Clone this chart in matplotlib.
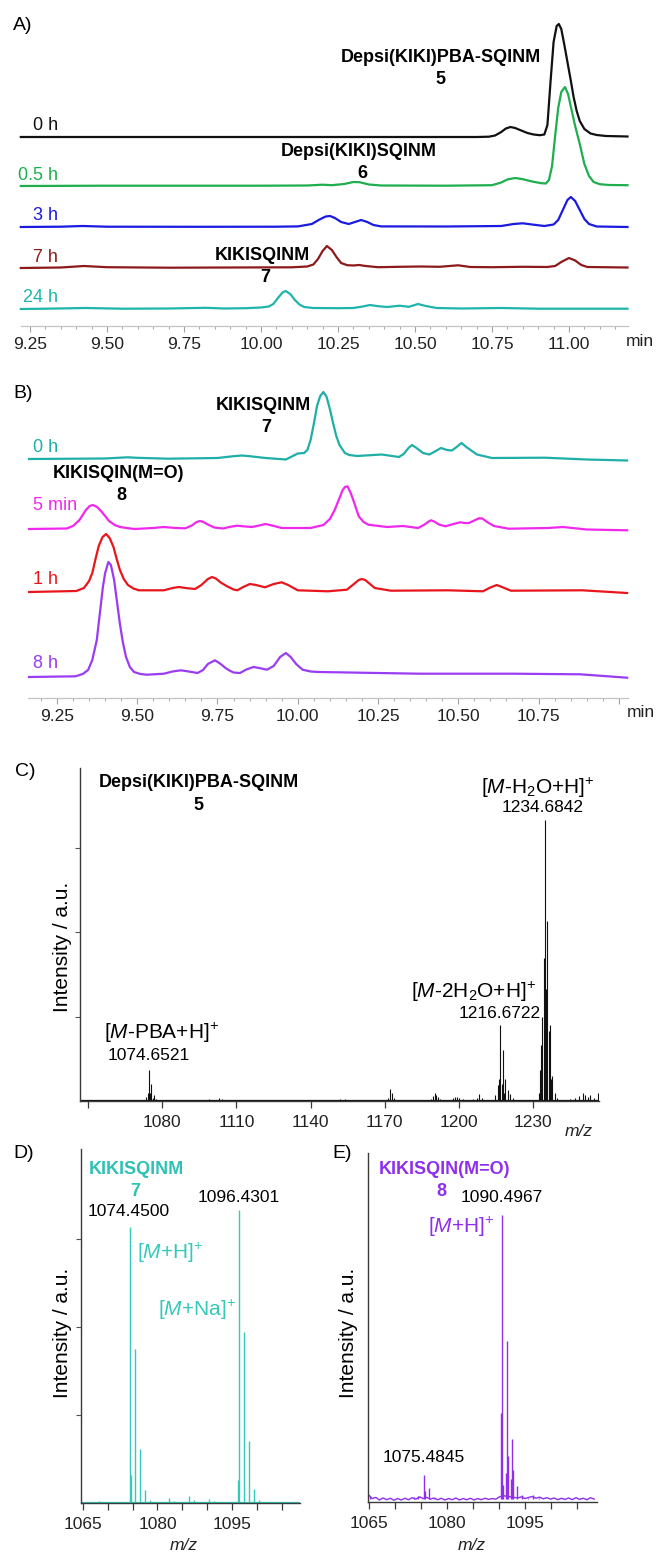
import matplotlib
matplotlib.use('Agg')
import matplotlib.pyplot as plt
from matplotlib.ticker import MultipleLocator, FixedLocator, NullFormatter

plt.rcParams['font.family'] = ['Liberation Sans', 'DejaVu Sans']
plt.rcParams['mathtext.fontset'] = 'custom'
plt.rcParams['mathtext.rm'] = 'Liberation Sans'
plt.rcParams['mathtext.it'] = 'Liberation Sans:italic'
plt.rcParams['mathtext.bf'] = 'Liberation Sans:bold'

# ---------------- data: panel A (HPLC traces, signal in arbitrary units) ----------------
A_labels = ['0 h', '0.5 h', '3 h', '7 h', '24 h']
A_t_0h = [9.22, 10.70, 10.74, 10.76, 10.78, 10.795, 10.81, 10.825, 10.845, 10.865, 10.885, 10.905, 10.92, 10.93,
          10.94, 10.95, 10.96, 10.967, 10.975, 10.985, 10.995, 11.005, 11.015, 11.025, 11.035, 11.05, 11.07, 11.09,
          11.12, 11.19]
A_y_0h = [0, 0, 0.3, 1.5, 5, 8.5, 10, 9, 6.5, 4, 2.5, 1.8, 2.5, 12, 55, 95, 111, 113, 108, 92, 75, 58, 40, 26, 16,
          8, 3.5, 2, 1, 0.5]
A_t_05h = [9.22, 9.50, 10.00, 10.15, 10.20, 10.23, 10.27, 10.30, 10.32, 10.35, 10.39, 10.60, 10.75, 10.78, 10.80,
           10.825, 10.85, 10.88, 10.91, 10.925, 10.935, 10.945, 10.955, 10.965, 10.975, 10.987, 10.997, 11.007,
           11.02, 11.035, 11.05, 11.065, 11.08, 11.10, 11.13, 11.19]
A_y_05h = [0, 0.3, 0.3, 0.5, 1.3, 0.8, 2, 4, 3.8, 1.5, 0.5, 0.3, 0.8, 3.5, 6.5, 8, 6.8, 4.5, 2.8, 2.5, 6, 20, 50,
           78, 94, 99, 92, 78, 60, 42, 22, 10, 4, 1.8, 1, 0.8]
A_t_3h = [9.22, 9.35, 9.42, 9.50, 9.80, 10.05, 10.12, 10.165, 10.19, 10.21, 10.224, 10.24, 10.26, 10.285, 10.30,
          10.325, 10.345, 10.365, 10.39, 10.60, 10.78, 10.82, 10.85, 10.88, 10.92, 10.95, 10.965, 10.98, 10.995,
          11.006, 11.02, 11.035, 11.05, 11.065, 11.09, 11.19]
A_y_3h = [0, 0.3, 1, 0.3, 0.2, 0.3, 0.6, 3, 7.5, 10.5, 11, 9, 5, 3, 4.5, 7, 5, 2, 0.6, 0.5, 1, 3, 3.7, 2.5, 1, 2.5,
          7, 17, 27, 30, 26, 17, 8, 3, 0.5, 0]
A_t_7h = [9.22, 9.35, 9.425, 9.50, 9.70, 9.90, 10.10, 10.15, 10.17, 10.185, 10.20, 10.214, 10.23, 10.245, 10.26,
          10.28, 10.30, 10.318, 10.34, 10.38, 10.45, 10.52, 10.58, 10.64, 10.68, 10.75, 10.85, 10.93, 10.955,
          10.975, 11.0, 11.02, 11.04, 11.06, 11.19]
A_y_7h = [0, 0.5, 2, 0.8, 0.3, 0.5, 0.7, 1.5, 3.5, 9, 17, 22, 18, 11, 5, 2.8, 2.5, 3, 2, 0.8, 1.2, 1.5, 1.2, 2.7,
          1.0, 0.8, 1.2, 1, 2, 6, 10, 7.5, 3, 1, 0.5]
A_t_24h = [9.22, 9.30, 9.43, 9.55, 9.70, 9.82, 9.88, 9.95, 10.00, 10.025, 10.04, 10.055, 10.07, 10.08, 10.095,
           10.11, 10.125, 10.14, 10.17, 10.25, 10.30, 10.33, 10.354, 10.38, 10.41, 10.45, 10.48, 10.51, 10.535,
           10.57, 10.65, 10.78, 10.90, 11.19]
A_y_24h = [0, 0.3, 1, 0.3, 0.5, 1.2, 0.5, 0.8, 1.5, 2.5, 5, 11, 16.5, 18, 15, 9, 4.5, 2, 1, 0.8, 1, 2.5, 4, 2.8,
           2, 3.3, 2.2, 5, 3, 1, 0.5, 1, 0.3, 0.3]
A_ticks = [9.25, 9.50, 9.75, 10.00, 10.25, 10.50, 10.75, 11.00]

# ---------------- data: panel B ----------------
B_labels = ['0 h', '5 min', '1 h', '8 h']
B_t_0h = [9.163, 9.40, 9.44, 9.47, 9.50, 9.596, 9.75, 9.80, 9.826, 9.85, 9.90, 9.963, 10.00, 10.02, 10.03, 10.04,
          10.05, 10.06, 10.07, 10.08, 10.09, 10.10, 10.11, 10.12, 10.13, 10.147, 10.16, 10.185, 10.262, 10.315,
          10.33, 10.345, 10.356, 10.37, 10.39, 10.41, 10.43, 10.446, 10.465, 10.48, 10.495, 10.51, 10.525, 10.558,
          10.605, 10.77, 10.90, 11.026]
B_y_0h = [0, 0.5, 1.2, 1.7, 1.2, 0.3, 1, 2.8, 3.5, 2.8, 1, -0.5, 5.5, 6, 9, 19, 35, 53, 63, 67, 62, 50, 36, 23,
          14, 6, 4, 3, 4.5, 2, 5, 11, 14, 11, 6, 4.5, 8, 11, 9, 8.5, 12, 16, 12, 4.5, 1, 1.3, -0.5, -1.5]
B_t_5m = [9.163, 9.28, 9.30, 9.32, 9.34, 9.352, 9.362, 9.375, 9.387, 9.40, 9.412, 9.43, 9.446, 9.49, 9.55, 9.583,
          9.62, 9.65, 9.67, 9.685, 9.695, 9.705, 9.72, 9.74, 9.767, 9.79, 9.81, 9.83, 9.857, 9.88, 9.90, 9.92,
          9.95, 10.04, 10.08, 10.10, 10.115, 10.13, 10.14, 10.147, 10.155, 10.165, 10.175, 10.19, 10.205, 10.22,
          10.278, 10.328, 10.375, 10.395, 10.408, 10.415, 10.425, 10.44, 10.46, 10.485, 10.506, 10.52, 10.533,
          10.55, 10.565, 10.575, 10.59, 10.611, 10.657, 10.78, 10.826, 10.90, 11.026]
B_y_5m = [0, 0.5, 3, 9, 19, 23, 24, 22, 18, 13, 8, 4, 2, 0, 1, 2, 1, 0.7, 3.5, 7, 8, 7.2, 4.5, 1.5, 0.5, 2.2, 3.3,
          2.7, 2, 3.5, 5, 3.5, 1, 1, 4, 10, 19, 31, 39, 42, 42.7, 36, 27, 12.7, 7, 4.3, 2, 3, 1, 4.5, 7.5, 8.7,
          7.5, 4.5, 2.7, 5, 6.7, 6, 6, 8.5, 10.8, 10.5, 7, 3, 0.3, 1, 2, -0.5, -1.3]
B_t_1h = [9.163, 9.31, 9.334, 9.35, 9.36, 9.37, 9.38, 9.392, 9.403, 9.414, 9.426, 9.436, 9.446, 9.458, 9.471,
          9.488, 9.505, 9.583, 9.61, 9.63, 9.65, 9.68, 9.70, 9.72, 9.733, 9.745, 9.76, 9.78, 9.80, 9.812, 9.83,
          9.851, 9.87, 9.898, 9.925, 9.95, 9.97, 10.0, 10.094, 10.153, 10.175, 10.19, 10.20, 10.21, 10.225, 10.24,
          10.29, 10.468, 10.577, 10.60, 10.62, 10.64, 10.664, 10.886, 11.026]
B_y_1h = [0, 1, 4, 11, 19, 33, 46, 55, 58, 54, 45, 33, 22, 13, 7, 3.5, 1.7, 1.7, 4, 5, 4, 3, 7, 13, 15, 13.5,
          9.5, 5.7, 2.5, 1.7, 5, 8, 7, 4.7, 8, 9.7, 7, 1.7, 0.7, 2.3, 8, 12, 13, 12, 8, 4, 1.3, 1.7, 0.7, 4.5, 7,
          4.5, 1.3, 1.7, -1]
B_t_8h = [9.163, 9.308, 9.33, 9.347, 9.36, 9.374, 9.384, 9.393, 9.40, 9.41, 9.418, 9.428, 9.437, 9.446, 9.455,
          9.465, 9.477, 9.49, 9.51, 9.53, 9.583, 9.61, 9.636, 9.66, 9.688, 9.705, 9.72, 9.742, 9.76, 9.775, 9.786,
          9.80, 9.82, 9.84, 9.862, 9.88, 9.904, 9.925, 9.945, 9.963, 9.978, 9.995, 10.015, 10.04, 10.066, 10.25,
          10.38, 10.67, 10.88, 11.026]
B_y_8h = [0, 0.7, 3, 7, 17, 37, 65, 90, 104, 115, 112, 97, 75, 53, 35, 20, 10, 5, 3, 2.3, 3.3, 5.5, 6.7, 5.5, 4,
          7, 13, 16.7, 13, 9, 6.7, 4.5, 4, 7.5, 10, 9, 7.3, 11, 20, 24, 20, 13, 7.3, 5.5, 5, 4, 3.3, 3.3, 2.7, -0.7]
B_ticks = [9.25, 9.50, 9.75, 10.00, 10.25, 10.50, 10.75, 11.00]

# ---------------- data: panel C (MS of 5, relative intensity %) ----------------
C_mz = [1055, 1058, 1062, 1066, 1071, 1073.65, 1074.2, 1074.65, 1075.2, 1075.65, 1076.2, 1076.65, 1077.65, 1090,
        1092, 1099, 1101, 1103, 1104, 1106, 1112, 1115, 1130, 1152, 1154, 1156, 1171.5, 1172.3, 1172.9, 1173.6,
        1174.5, 1188.5, 1189.5, 1190.3, 1190.9, 1191.7, 1192.5, 1197.5, 1198.3, 1199.2, 1200.2, 1201.5, 1203,
        1205.5, 1207.2, 1208.2, 1209.2, 1214.7, 1215.7, 1216.2, 1216.67, 1217.2, 1217.67, 1218.2, 1218.67,
        1219.67, 1220.67, 1221.67, 1222.5, 1228, 1230.5, 1232.2, 1232.7, 1233.2, 1233.7, 1234.2, 1234.68, 1235.2,
        1235.68, 1236.2, 1236.68, 1237.2, 1237.68, 1238.68, 1239.68, 1243, 1245, 1247, 1248.5, 1250, 1251, 1252,
        1253, 1254.5, 1256]
C_int = [0.4, 0.5, 0.4, 0.3, 0.3, 1.4, 3, 11, 3, 6.2, 1, 2.2, 0.8, 0.5, 0.4, 0.6, 0.5, 0.9, 0.6, 0.4, 0.5, 0.3,
         0.2, 0.6, 0.7, 0.5, 1.2, 4.2, 2.8, 1.2, 0.5, 0.8, 1.8, 2.8, 2.0, 1.4, 0.6, 1.0, 1.6, 1.4, 0.9, 0.6, 0.4,
         0.6, 1.2, 2.5, 1.2, 2.0, 5.7, 8, 27, 6, 18, 3, 8, 4, 2.5, 1.0, 0.4, 0.4, 0.5, 3, 11, 20, 30, 51, 100, 40,
         64, 25, 27, 8, 9, 3, 1, 0.5, 0.8, 1.2, 1.8, 2.8, 2.0, 1.5, 2.2, 1.2, 3.0]
C_ticks = [1050, 1080, 1110, 1140, 1170, 1200, 1230]
C_ticklabels = ['', '1080', '1110', '1140', '1170', '1200', '1230']

# ---------------- data: panel D (MS of 7) ----------------
D_mz = [1065.5, 1066.5, 1067.5, 1068.3, 1069.5, 1071, 1072.5, 1073.9, 1074.45, 1074.6, 1075.45, 1076.45, 1077.45,
        1078.45, 1079.5, 1080.5, 1081.2, 1082.3, 1083.3, 1084.3, 1085.3, 1086.4, 1087.4, 1088.4, 1089.4, 1090.4,
        1091.4, 1092.4, 1093.5, 1095, 1096.25, 1096.43, 1097.43, 1098.43, 1099.43, 1100.43, 1101.5, 1103, 1105,
        1107]
D_int = [0.4, 0.5, 0.4, 0.6, 0.3, 0.3, 0.3, 0.5, 94.2, 9.6, 52.6, 18.4, 4.4, 1.0, 0.4, 0.5, 0.4, 1.7, 0.7, 0.5,
         0.4, 2.4, 1.0, 0.5, 0.4, 1.2, 0.7, 0.3, 0.3, 0.3, 8, 100, 58.4, 21.2, 4.8, 1.0, 0.4, 0.3, 0.4, 0.3]

# ---------------- data: panel E (MS of 8) ----------------
E_mz = [1065.1, 1073.7, 1074.4, 1075.48, 1075.8, 1076.48, 1077.4, 1090.3, 1090.5, 1090.7, 1091.3, 1091.5, 1091.7,
        1092.3, 1092.5, 1092.7, 1093.5, 1094.5, 1095.5, 1096.6, 1097.6]
E_int = [2.0, 1.7, 2.0, 9.4, 4.0, 4.9, 1.5, 31, 100, 6, 10, 56, 16, 8, 22, 11, 5.6, 2.5, 1.5, 2.4, 1.5]
E_noise_mz = [1064.9, 1065.6, 1066.3, 1067.0, 1067.7, 1068.4, 1069.1, 1069.8, 1070.5, 1071.2,
              1071.9, 1072.6, 1073.3, 1074.0, 1074.7, 1075.4, 1076.1, 1076.8, 1077.5, 1078.2,
              1078.9, 1079.6, 1080.3, 1081.0, 1081.7, 1082.4, 1083.1, 1083.8, 1084.5, 1085.2,
              1085.9, 1086.6, 1087.3, 1088.0, 1088.7, 1089.4, 1090.1, 1090.8, 1091.5, 1092.2,
              1092.9, 1093.6, 1094.3, 1095.0, 1095.7, 1096.4, 1097.1, 1097.8, 1098.5, 1099.2,
              1099.9, 1100.6, 1101.3, 1102.0, 1102.7, 1103.4, 1104.1, 1104.8, 1105.5, 1106.2,
              1106.9, 1107.6, 1108.3]
E_noise_int = [2.5, 1.2, 1.6, 0.7, 1.4, 0.8, 1.3, 0.6, 1.2, 0.7,
               1.3, 0.8, 1.5, 1.0, 1.8, 1.2, 1.6, 1.0, 1.4, 0.8,
               1.3, 0.7, 1.2, 0.8, 1.4, 0.7, 1.2, 0.8, 1.3, 0.7,
               1.2, 0.8, 1.3, 0.9, 1.2, 1.0, 1.8, 2.2, 2.0, 1.8,
               1.6, 1.4, 1.8, 1.2, 1.6, 1.9, 1.3, 1.7, 1.1, 1.5,
               1.0, 1.4, 0.8, 1.3, 0.9, 1.4, 0.8, 1.5, 0.9, 1.3,
               0.8, 1.5, 1.0]
DE_ticks = [1065, 1080, 1095]

# ---------------- styling / layout ----------------
W, H = 657, 1553
fig = plt.figure(figsize=(W / 100, H / 100), dpi=100)


def add_ax(l, t, r, b):
    return fig.add_axes([l / W, 1 - b / H, (r - l) / W, (b - t) / H])


def ftext(x, y, s, **kw):
    kw.setdefault('va', 'center')
    kw.setdefault('ha', 'center')
    fig.text(x / W, 1 - y / H, s, **kw)


A_colors = ['#111111', '#1EAE4E', '#1A1AE0', '#8C1A1A', '#1FB5AA']
B_colors = ['#1EAFA6', '#F028EE', '#E8161C', '#9A3CF2']
TEAL = '#35C9BA'
PURP = '#8E2FEE'
LW = 1.6
TICK_FS = 12.5
SUP = r'$^{\!+}$'


def chrom_axes(ax, xlim, ylim, ticks, last_label=True):
    ax.set_xlim(*xlim)
    ax.set_ylim(*ylim)
    for s in ['left', 'right', 'top']:
        ax.spines[s].set_visible(False)
    ax.spines['bottom'].set_color('#C4C4C4')
    ax.spines['bottom'].set_linewidth(0.9)
    ax.set_yticks([])
    ax.xaxis.set_major_locator(FixedLocator(ticks))
    ax.xaxis.set_minor_locator(MultipleLocator(0.05))
    labs = ['%.2f' % v for v in ticks]
    if not last_label:
        labs[-1] = ''
    ax.set_xticklabels(labs)
    ax.tick_params(axis='x', which='major', length=4, width=0.8, color='#A0A0A0', labelsize=TICK_FS,
                   labelcolor='#222222', pad=4)
    ax.tick_params(axis='x', which='minor', length=2.5, width=0.7, color='#A8A8A8')
    ax.patch.set_alpha(0)


# ---------------- Panel A ----------------
axA = add_ax(20.8, 15, 627.5, 326)
chrom_axes(axA, (9.22, 11.19), (0, 311), A_ticks)
A_offsets = [189, 140, 99, 58, 17]
A_series = [(A_t_0h, A_y_0h), (A_t_05h, A_y_05h), (A_t_3h, A_y_3h), (A_t_7h, A_y_7h), (A_t_24h, A_y_24h)]
for (tt, yy), off, c in zip(A_series, A_offsets, A_colors):
    axA.plot(tt, [v + off for v in yy], color=c, lw=LW, solid_joinstyle='round', clip_on=False)

ftext(13, 25, 'A)', ha='left', fontsize=14)
for lab, y, c in zip(A_labels, [126, 175, 215, 257, 298], A_colors):
    ftext(58, y, lab, ha='right', fontsize=13, color=c)
ftext(441, 58, 'Depsi(KIKI)PBA-SQINM', fontsize=13, fontweight='bold')
ftext(440, 80, '5', fontsize=13, fontweight='bold')
ftext(359, 152, 'Depsi(KIKI)SQINM', fontsize=13, fontweight='bold')
ftext(362, 174, '6', fontsize=13, fontweight='bold')
ftext(262, 256, 'KIKISQINM', fontsize=13, fontweight='bold')
ftext(265, 277, '7', fontsize=13, fontweight='bold')
ftext(640, 342, 'min', fontsize=TICK_FS, color='#222222')

# ---------------- Panel B ----------------
axB = add_ax(28.1, 360, 628.4, 698)
chrom_axes(axB, (9.16, 11.03), (0, 338), B_ticks, last_label=False)
B_offsets = [239, 169, 106, 21]
B_series = [(B_t_0h, B_y_0h), (B_t_5m, B_y_5m), (B_t_1h, B_y_1h), (B_t_8h, B_y_8h)]
for (tt, yy), off, c in zip(B_series, B_offsets, B_colors):
    axB.plot(tt, [v + off for v in yy], color=c, lw=LW, solid_joinstyle='round', clip_on=False)

ftext(13, 393, 'B)', ha='left', fontsize=14)
for lab, y, c in zip(B_labels, [447, 506, 579, 663], B_colors):
    ftext(33, y, lab, ha='left', fontsize=13, color=c)
ftext(263, 405, 'KIKISQINM', fontsize=13, fontweight='bold')
ftext(266, 427, '7', fontsize=13, fontweight='bold')
ftext(118, 473, 'KIKISQIN(M=O)', fontsize=13, fontweight='bold')
ftext(121, 495, '8', fontsize=13, fontweight='bold')
ftext(641, 713, 'min', fontsize=TICK_FS, color='#222222')


# ---------------- MS axes helper ----------------
def ms_axes(ax, xlim, ylim, yt):
    ax.set_xlim(*xlim)
    ax.set_ylim(*ylim)
    for s in ['right', 'top']:
        ax.spines[s].set_visible(False)
    for s in ['left', 'bottom']:
        ax.spines[s].set_color('#3A3A3A')
        ax.spines[s].set_linewidth(1.0)
    ax.set_yticks(yt)
    ax.yaxis.set_major_formatter(NullFormatter())
    ax.tick_params(axis='y', length=3.5, width=0.8, color='#555555')
    ax.tick_params(axis='x', which='both', length=5, width=0.9, color='#3A3A3A', labelsize=TICK_FS,
                   labelcolor='#222222', pad=5)
    ax.patch.set_alpha(0)


# ---------------- Panel C ----------------
axC = add_ax(80, 768, 599, 1101)
ms_axes(axC, (1046.8, 1256.6), (0, 118.5), [30, 60, 90])
axC.xaxis.set_major_locator(FixedLocator(C_ticks))
axC.set_xticklabels(C_ticklabels)
axC.axhline(0.35, color='#111111', lw=0.9)
axC.vlines(C_mz, 0.3, C_int, color='#111111', lw=0.8)

ftext(15, 772, 'C)', ha='left', fontsize=14)
ftext(199, 783, 'Depsi(KIKI)PBA-SQINM', fontsize=13, fontweight='bold')
ftext(198, 805, '5', fontsize=13, fontweight='bold')
ftext(538, 788, r'[$\mathit{M}$-H$_2$O+H]' + SUP, fontsize=15)
ftext(543, 808, '1234.6842', fontsize=12.5)
ftext(474, 992, r'[$\mathit{M}$-2H$_2$O+H]' + SUP, fontsize=15)
ftext(500, 1013, '1216.6722', fontsize=12.5)
ftext(162, 1033, r'[$\mathit{M}$-PBA+H]' + SUP, fontsize=15)
ftext(149, 1055, '1074.6521', fontsize=12.5)
ftext(63, 947, 'Intensity / a.u.', fontsize=15, rotation=90)
ftext(579, 1132, 'm/z', fontsize=12.5, style='italic', color='#222222')

# ---------------- Panel D ----------------
axD = add_ax(81, 1149, 300, 1503)
ms_axes(axD, (1064.66, 1108.6), (0, 120.8), [30, 60, 90])
axD.xaxis.set_major_locator(FixedLocator(DE_ticks))
axD.xaxis.set_minor_locator(MultipleLocator(5))
axD.tick_params(axis='x', which='minor', length=5, width=0.9, color='#3A3A3A')
axD.axhline(0.5, color=TEAL, lw=0.9)
axD.vlines(D_mz, 0.4, D_int, color=TEAL, lw=1.0)

ftext(13, 1153, 'D)', ha='left', fontsize=14)
ftext(136, 1170, 'KIKISQINM', fontsize=13, fontweight='bold', color='#2EC2B4')
ftext(135, 1192, '7', fontsize=13, fontweight='bold', color='#2EC2B4')
ftext(129, 1212, '1074.4500', fontsize=12.5)
ftext(239, 1197, '1096.4301', fontsize=12.5)
ftext(137, 1253, r'[$\mathit{M}$+H]' + SUP, ha='left', fontsize=15, color=TEAL)
ftext(158, 1310, r'[$\mathit{M}$+Na]' + SUP, ha='left', fontsize=15, color=TEAL)
ftext(63, 1333, 'Intensity / a.u.', fontsize=15, rotation=90)
ftext(184, 1545, 'm/z', fontsize=12.5, style='italic', color='#222222')

# ---------------- Panel E ----------------
axE = add_ax(368, 1153, 597, 1502)
ms_axes(axE, (1064.8, 1108.85), (0, 121.6), [])
axE.xaxis.set_major_locator(FixedLocator(DE_ticks))
axE.xaxis.set_minor_locator(MultipleLocator(5))
axE.tick_params(axis='x', which='minor', length=5, width=0.9, color='#3A3A3A')
axE.plot(E_noise_mz, E_noise_int, color=PURP, lw=1.0)
axE.vlines(E_mz, 1.0, E_int, color=PURP, lw=1.0)

ftext(332, 1153, 'E)', ha='left', fontsize=14)
ftext(445, 1170, 'KIKISQIN(M=O)', fontsize=13, fontweight='bold', color=PURP)
ftext(441, 1192, '8', fontsize=13, fontweight='bold', color=PURP)
ftext(502, 1197, '1090.4967', fontsize=12.5)
ftext(461, 1227, r'[$\mathit{M}$+H]' + SUP, fontsize=15, color=PURP)
ftext(424, 1457, '1075.4845', fontsize=12.5)
ftext(349, 1333, 'Intensity / a.u.', fontsize=15, rotation=90)
ftext(472, 1545, 'm/z', fontsize=12.5, style='italic', color='#222222')

fig.savefig('out.png', dpi=100, facecolor='white')
